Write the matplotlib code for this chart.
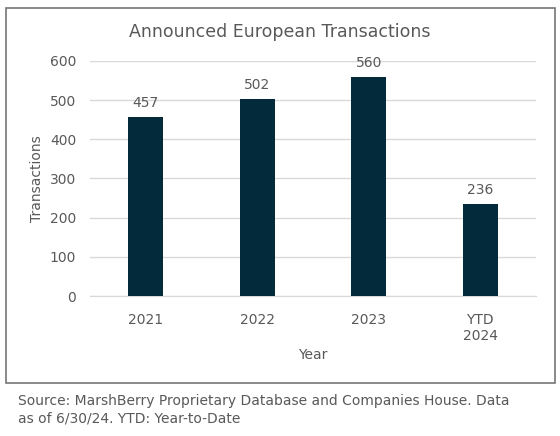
import matplotlib.pyplot as plt
from matplotlib.patches import Rectangle

categories = ['2021', '2022', '2023', 'YTD\n2024']
transactions = [457, 502, 560, 236]
yticks = [0, 100, 200, 300, 400, 500, 600]

text_color = '#595959'
bar_color = '#022a3a'

fig = plt.figure(figsize=(5.6, 4.36), dpi=100)
plt.rcParams['font.family'] = ['DejaVu Sans']

# cadre du graphique
fig.patches.append(Rectangle((6 / 560, 1 - 383 / 436), 549 / 560, 375 / 436,
                             transform=fig.transFigure, fill=False,
                             edgecolor='#767676', linewidth=1.2))

ax = fig.add_axes([90 / 560, 1 - 296 / 436, 446 / 560, 235 / 436])
x = range(len(categories))
bars = ax.bar(x, transactions, width=0.315, color=bar_color, zorder=3)
for xi, v in zip(x, transactions):
    ax.text(xi, v + 18, str(v), ha='center', va='bottom', fontsize=10, color=text_color)

ax.set_xlim(-0.5, len(categories) - 0.5)
ax.set_ylim(0, 600)
ax.set_yticks(yticks)
ax.set_xticks(list(x))
ax.set_xticklabels(categories)
ax.yaxis.grid(True, color='#d9d9d9', linewidth=1, zorder=0)
ax.tick_params(axis='both', length=0, labelsize=10, colors=text_color)
ax.tick_params(axis='x', pad=12)
ax.tick_params(axis='y', pad=10)
for s in ['top', 'right', 'left']:
    ax.spines[s].set_visible(False)
ax.spines['bottom'].set_color('#d9d9d9')

ax.set_xlabel('Year', fontsize=10, color=text_color, labelpad=4)
ax.set_ylabel('Transactions', fontsize=10, color=text_color, labelpad=4)

fig.text(0.5, 1 - 32 / 436, 'Announced European Transactions', ha='center', va='center',
         fontsize=12.5, color=text_color)
fig.text(18 / 560, 1 - 410 / 436,
         'Source: MarshBerry Proprietary Database and Companies House. Data\nas of 6/30/24. YTD: Year-to-Date',
         ha='left', va='center', fontsize=10, color=text_color, linespacing=1.3)

fig.savefig('out.png', dpi=100)
